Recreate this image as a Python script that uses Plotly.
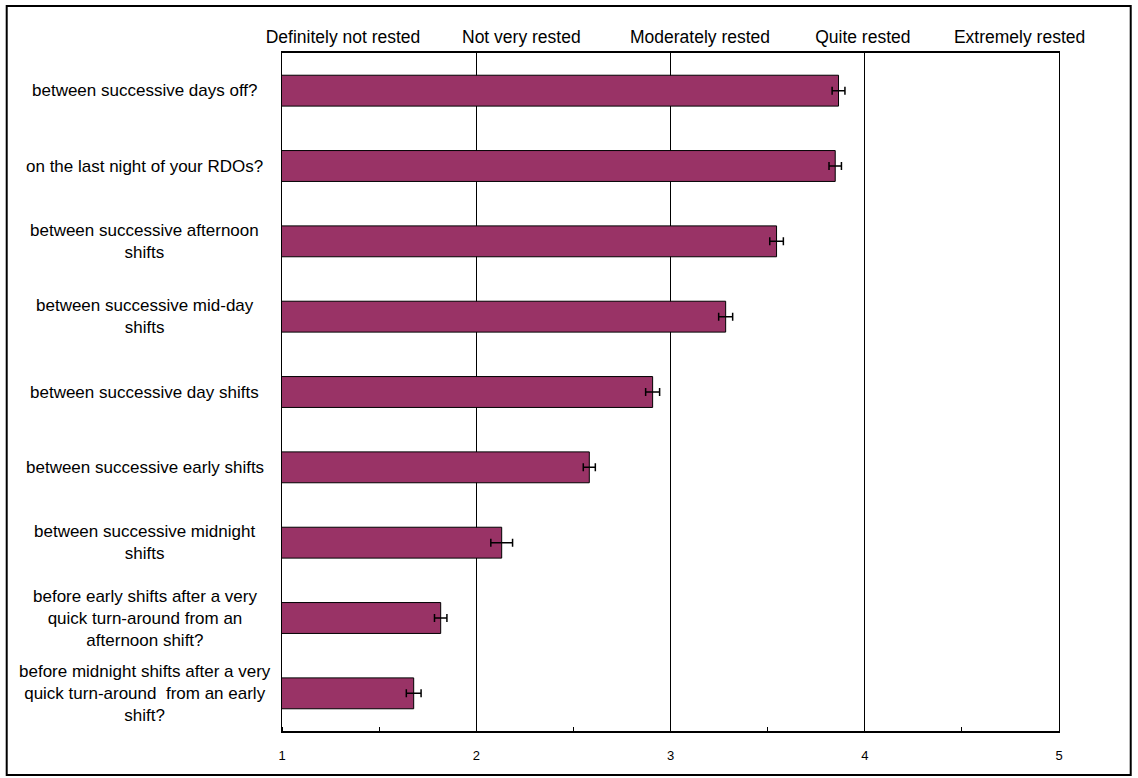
import plotly.graph_objects as go

categories = [
    "between successive days off?",
    "on the last night of your RDOs?",
    "between successive afternoon<br>shifts",
    "between successive mid-day<br>shifts",
    "between successive day shifts",
    "between successive early shifts",
    "between successive midnight<br>shifts",
    "before early shifts after a very<br>quick turn-around from an<br>afternoon shift?",
    "before midnight shifts after a very<br>quick turn-around  from an early<br>shift?",
]
means = [3.865, 3.848, 3.546, 3.284, 2.908, 2.582, 2.131, 1.817, 1.678]
errors = [0.033, 0.032, 0.035, 0.036, 0.036, 0.031, 0.056, 0.032, 0.038]

x_ticks = [1, 2, 3, 4, 5]
top_labels = ["Definitely not rested", "Not very rested", "Moderately rested",
              "Quite rested", "Extremely rested"]
top_label_pos = [1.314, 2.232, 3.152, 3.990, 4.797]

FONT = "Liberation Sans, Arial, sans-serif"

fig = go.Figure()
fig.add_trace(go.Bar(
    y=categories, x=means, orientation="h", base=0,
    marker=dict(color="#993366", line=dict(color="black", width=1)),
    error_x=dict(type="data", array=errors, color="black", thickness=1.5, width=4),
    width=0.41, showlegend=False,
))
# invisible trace to activate top axis
fig.add_trace(go.Scatter(x=[1, 5], y=[categories[0], categories[0]], xaxis="x2",
                         mode="markers", marker=dict(opacity=0), showlegend=False,
                         hoverinfo="skip"))

fig.update_layout(
    width=1138, height=778,
    margin=dict(l=282, r=79, t=53, b=47),
    paper_bgcolor="white", plot_bgcolor="white",
    font=dict(family=FONT, color="black"),
    xaxis=dict(range=[1, 5], tickvals=x_ticks, ticktext=[str(v) for v in x_ticks],
               showgrid=True, gridcolor="black", gridwidth=1,
               showline=True, linecolor="black", linewidth=1.5, mirror=True,
               ticks="", tickfont=dict(size=13, color="black"), zeroline=False,
               ticklabelstandoff=12,
               minor=dict(dtick=0.5, ticks="inside", ticklen=4, tickcolor="black", showgrid=False)),
    xaxis2=dict(range=[1, 5], overlaying="x", side="top", tickvals=top_label_pos,
                ticktext=top_labels, showgrid=False, ticks="", showline=False,
                tickfont=dict(size=17.5, color="black"), zeroline=False, ticklabelstandoff=6),
    yaxis=dict(type="category", autorange="reversed", showticklabels=False,
               showgrid=False, showline=True, linecolor="black", linewidth=1, mirror=True,
               ticks=""),
    bargap=0.59,
)

for cat in categories:
    fig.add_annotation(x=-0.1767, xref="paper", y=cat, yref="y", text=cat,
                       showarrow=False, xanchor="center", yanchor="middle", align="center",
                       font=dict(size=17, family=FONT, color="black"))

fig.add_shape(type="rect", xref="paper", yref="paper",
              x0=-0.3543, x1=1.0923, y0=-0.0649, y1=1.0693,
              line=dict(color="black", width=2), fillcolor="rgba(0,0,0,0)", layer="below")

fig.write_html("out.html", config={"displayModeBar": False},
               post_script="document.body.style.margin='0';")
